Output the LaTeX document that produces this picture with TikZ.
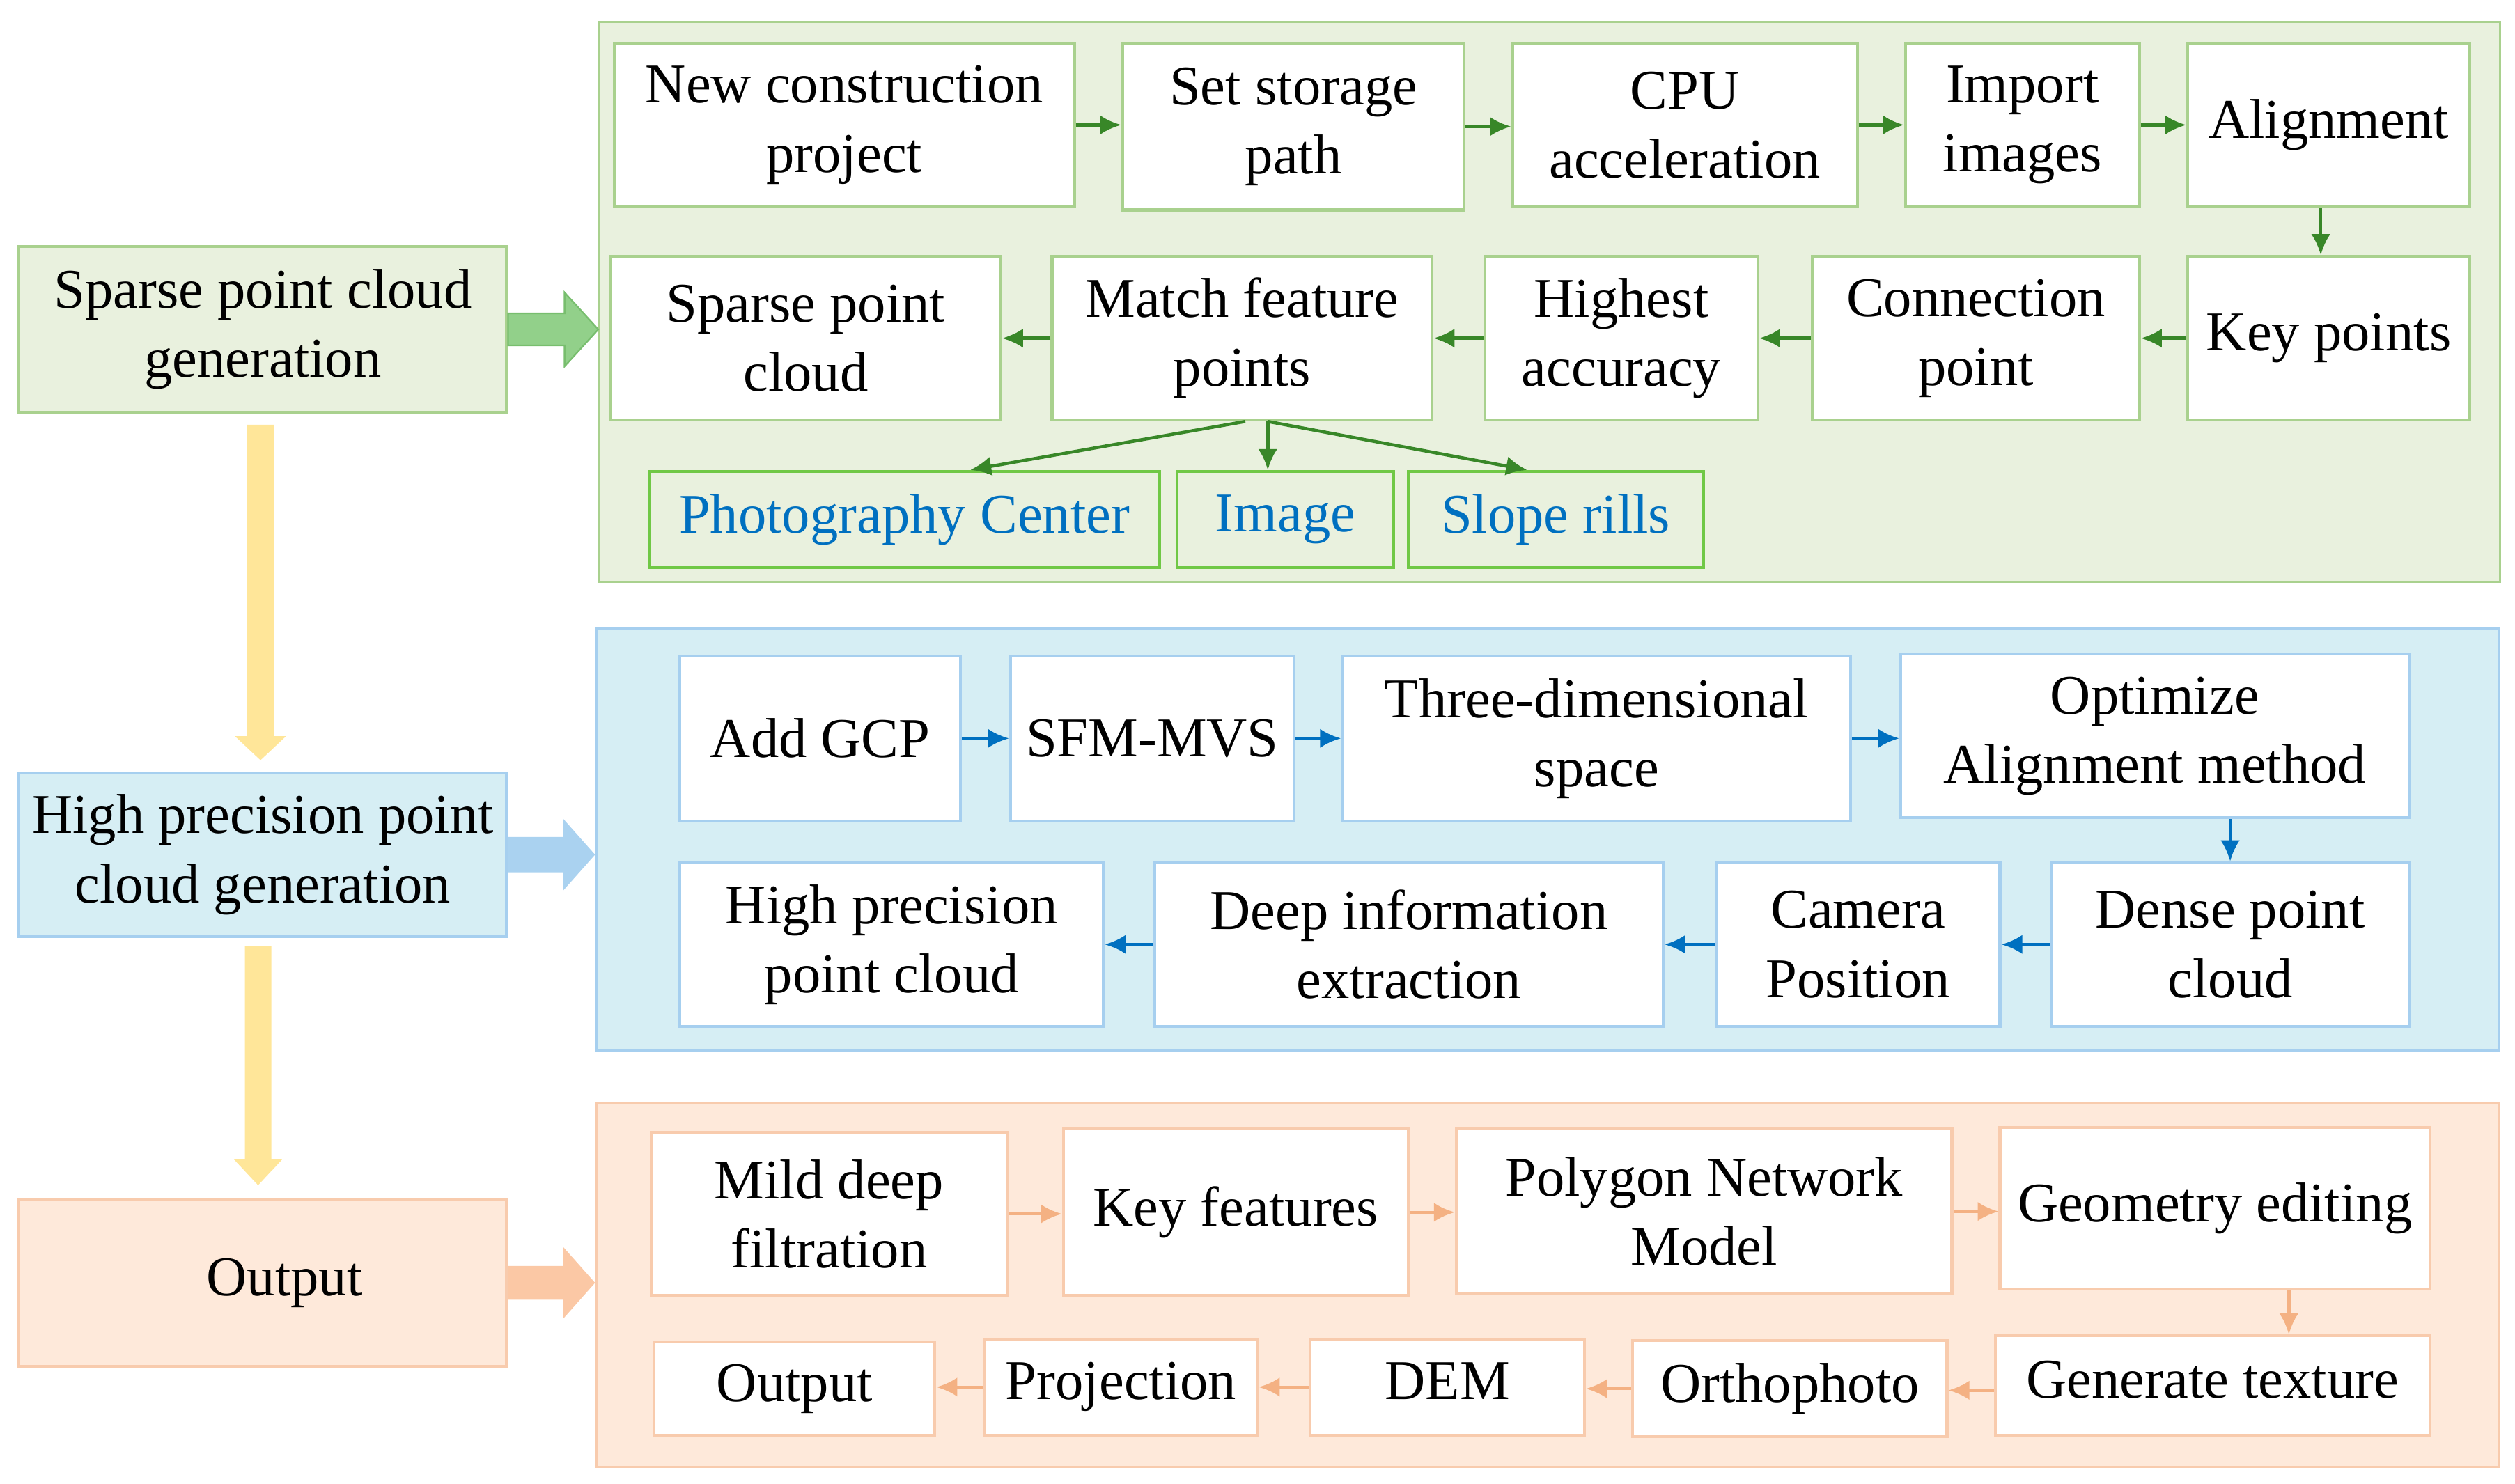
\documentclass[tikz,border=0pt]{standalone}
\usepackage{fontspec}
\setmainfont{Liberation Serif}
\usetikzlibrary{arrows.meta,calc}
\definecolor{gfill}{RGB}{233,241,222}
\definecolor{gline}{RGB}{169,209,142}
\definecolor{gline2}{RGB}{112,200,70}
\definecolor{garrow}{RGB}{56,135,40}
\definecolor{gblock}{RGB}{146,208,138}
\definecolor{gblockline}{RGB}{120,190,110}
\definecolor{bfill}{RGB}{214,238,244}
\definecolor{bline}{RGB}{166,207,239}
\definecolor{barrow}{RGB}{0,112,192}
\definecolor{bblock}{RGB}{170,210,240}
\definecolor{ofill}{RGB}{254,233,218}
\definecolor{oline}{RGB}{248,203,173}
\definecolor{oarrow}{RGB}{244,177,131}
\definecolor{oblock}{RGB}{251,200,165}
\definecolor{yarrow}{RGB}{255,230,153}
\definecolor{txtblue}{RGB}{0,112,192}
\newcommand{\phj}{\vphantom{Pjy}}
\begin{document}
\begin{tikzpicture}[x=1pt,y=-1pt,
  box/.style={draw, fill=white, line width=1.8pt, anchor=north west, inner sep=1pt,
    align=center, font=\fontsize{35}{43}\selectfont},
  gbox/.style={box, draw=gline},
  gbox2/.style={box, draw=gline2, fill=gfill, text=txtblue},
  bbox/.style={box, draw=bline},
  obox/.style={box, draw=oline},
  panel/.style={anchor=north west, line width=1.5pt, inner sep=0pt},
  arr/.style={-{Latex[length=13pt,width=12pt]}, line width=2pt},
  garr/.style={arr, draw=garrow},
  barr/.style={arr, draw=barrow},
  oarr/.style={arr, draw=oarrow}
]
\useasboundingbox (0,0) rectangle (1568,925.34);

% left column
\node[box, draw=gline, fill=gfill, minimum width=304pt, minimum height=103pt] (sparse) at (11,153) {Sparse point cloud\\generation};
\node[box, draw=bline, fill=bfill, minimum width=304pt, minimum height=102pt] (hp) at (11,481) {High precision point\\cloud generation};
\node[box, draw=oline, fill=ofill, minimum width=304pt, minimum height=104pt] (out) at (11,747) {\hspace*{27pt}Output\phj};

% panels
\node[panel, draw=gline, fill=gfill, minimum width=1185pt, minimum height=349pt] (gp) at (373,13) {};
\node[panel, draw=bline, fill=bfill, minimum width=1186pt, minimum height=263pt] (bp) at (371,391) {};
\node[panel, draw=oline, fill=ofill, minimum width=1186pt, minimum height=227pt] (op) at (371,687) {};

% block arrows
\path (sparse.east) coordinate (s0) (sparse.east -| gp.west) coordinate (s1);
\filldraw[fill=gblock, draw=gblockline, line width=1pt] ($(s0)+(0,-10)$) -- ($(s1)+(-21,-10)$) -- ($(s1)+(-21,-23)$) -- (s1) -- ($(s1)+(-21,23)$) -- ($(s1)+(-21,10)$) -- ($(s0)+(0,10)$) -- cycle;
\path (hp.east) coordinate (h0) (hp.east -| bp.west) coordinate (h1);
\fill[bblock] ($(h0)+(0,-11)$) -- ($(h1)+(-20,-11)$) -- ($(h1)+(-20,-22.5)$) -- (h1) -- ($(h1)+(-20,22.5)$) -- ($(h1)+(-20,11)$) -- ($(h0)+(0,11)$) -- cycle;
\path (out.east) coordinate (o0) (out.east -| op.west) coordinate (o1);
\fill[oblock] ($(o0)+(0,-10.5)$) -- ($(o1)+(-20,-10.5)$) -- ($(o1)+(-20,-22.5)$) -- (o1) -- ($(o1)+(-20,22.5)$) -- ($(o1)+(-20,10.5)$) -- ($(o0)+(0,10.5)$) -- cycle;

% yellow arrows
\path ($(sparse.south)+(-1.5,7)$) coordinate (y0) ($(hp.north)+(-1.5,-7)$) coordinate (y1);
\fill[yarrow] ($(y0)+(-8.25,0)$) -- ($(y1)+(-8.25,-15)$) -- ($(y1)+(-16,-15)$) -- (y1) -- ($(y1)+(16,-15)$) -- ($(y1)+(8.25,-15)$) -- ($(y0)+(8.25,0)$) -- cycle;
\path ($(hp.south)+(-3,5)$) coordinate (y2) ($(out.north)+(-3,-8)$) coordinate (y3);
\fill[yarrow] ($(y2)+(-8.25,0)$) -- ($(y3)+(-8.25,-16)$) -- ($(y3)+(-15,-16)$) -- (y3) -- ($(y3)+(15,-16)$) -- ($(y3)+(8.25,-16)$) -- ($(y2)+(8.25,0)$) -- cycle;

% green panel boxes
\node[gbox, minimum width=287pt, minimum height=102pt] (n1) at (382,26) {New construction\\project};
\node[gbox, minimum width=213pt, minimum height=104pt] (n2) at (699,26) {Set storage\\path};
\node[gbox, minimum width=215pt, minimum height=102pt] (n3) at (942,26) {CPU\\acceleration};
\node[gbox, minimum width=146pt, minimum height=102pt] (n4) at (1187,26) {Import\\images};
\node[gbox, minimum width=176pt, minimum height=102pt] (n5) at (1363,26) {Alignment};
\node[gbox, minimum width=176pt, minimum height=102pt] (kp) at (1363,159) {Key points};
\node[gbox, minimum width=204pt, minimum height=102pt] (cp) at (1129,159) {Connection\\point};
\node[gbox, minimum width=170pt, minimum height=102pt] (ha) at (925,159) {Highest\\accuracy};
\node[gbox, minimum width=237pt, minimum height=102pt] (mf) at (655,159) {Match feature\\points};
\node[gbox, minimum width=243pt, minimum height=102pt] (sp) at (380,159) {Sparse point\\cloud};
\node[gbox2, minimum width=318pt, minimum height=60pt] (pc) at (404,293) {Photography Center\phj};
\node[gbox2, minimum width=135pt, minimum height=60pt] (im) at (733,293) {Image\phj};
\node[gbox2, minimum width=184pt, minimum height=60pt] (sr) at (877,293) {Slope rills\phj};

\draw[garr] (n1.east) -- (n1.east -| n2.west);
\draw[garr] (n2.east) -- (n2.east -| n3.west);
\draw[garr] (n3.east) -- (n3.east -| n4.west);
\draw[garr] (n4.east) -- (n4.east -| n5.west);
\coordinate (al) at ($(n5.south)+(-5,0)$);
\draw[garr] (al) -- (al |- kp.north);
\draw[garr] (kp.west) -- (kp.west -| cp.east);
\draw[garr] (cp.west) -- (cp.west -| ha.east);
\draw[garr] (ha.west) -- (ha.west -| mf.east);
\draw[garr] (mf.west) -- (mf.west -| sp.east);
\coordinate (m0) at ($(mf.south)+(16,0)$);
\draw[garr] ($(mf.south)+(2,0)$) -- ($(pc.north west)+(201,0)$);
\draw[garr] (m0) -- (m0 |- im.north);
\draw[garr] (m0) -- ($(sr.north west)+(75,0)$);

% blue panel boxes
\node[bbox, minimum width=175pt, minimum height=103pt] (a1) at (423,408) {Add GCP};
\node[bbox, minimum width=177pt, minimum height=103pt] (a2) at (629,408) {SFM-MVS};
\node[bbox, minimum width=317pt, minimum height=103pt] (a3) at (836,408) {Three-dimensional\\space};
\node[bbox, minimum width=317pt, minimum height=102pt] (a4) at (1184,407) {Optimize\\Alignment method};
\node[bbox, minimum width=264pt, minimum height=102pt] (b1) at (423,537) {High precision\\point cloud};
\node[bbox, minimum width=317pt, minimum height=102pt] (b2) at (719,537) {Deep information\\extraction};
\node[bbox, minimum width=177pt, minimum height=102pt] (b3) at (1069,537) {Camera\\Position};
\node[bbox, minimum width=223pt, minimum height=102pt] (b4) at (1278,537) {Dense point\\cloud};

\draw[barr] (a1.east) -- (a1.east -| a2.west);
\draw[barr] (a2.east) -- (a2.east -| a3.west);
\draw[barr] (a3.east) -- (a3.east -| a4.west);
\draw[barr] (b4.north |- a4.south) -- (b4.north);
\draw[barr] (b4.west) -- (b4.west -| b3.east);
\draw[barr] (b3.west) -- (b3.west -| b2.east);
\draw[barr] (b2.west) -- (b2.west -| b1.east);

% orange panel boxes
\node[obox, minimum width=222pt, minimum height=102pt] (c1) at (405,705) {Mild deep\\filtration};
\node[obox, minimum width=215pt, minimum height=104pt] (c2) at (662,703) {Key features};
\node[obox, minimum width=309pt, minimum height=103pt] (c3) at (907,703) {Polygon Network\\Model};
\node[obox, minimum width=268pt, minimum height=101pt] (c4) at (1246,702) {Geometry editing};
\node[obox, minimum width=271pt, minimum height=62pt] (d1) at (1243,832) {Generate texture\phj};
\node[obox, minimum width=196pt, minimum height=60pt] (d2) at (1017,835) {Orthophoto\phj};
\node[obox, minimum width=171pt, minimum height=60pt] (d3) at (816,834) {DEM\phj};
\node[obox, minimum width=170pt, minimum height=60pt] (d4) at (613,834) {Projection\phj};
\node[obox, minimum width=175pt, minimum height=58pt] (d5) at (407,836) {Output\phj};

\draw[oarr] (c1.east) -- (c1.east -| c2.west);
\draw[oarr] (c2.east) -- (c2.east -| c3.west);
\draw[oarr] (c3.east) -- (c3.east -| c4.west);
\coordinate (g0) at ($(c4.south west)+(181,0)$);
\draw[oarr] (g0) -- (g0 |- d1.north);
\coordinate (t0) at ($(d1.west)+(0,3)$);
\draw[oarr] (t0) -- (t0 -| d2.east);
\draw[oarr] (d2.west) -- (d2.west -| d3.east);
\draw[oarr] (d3.west) -- (d3.west -| d4.east);
\draw[oarr] (d4.west) -- (d4.west -| d5.east);
\end{tikzpicture}
\end{document}
